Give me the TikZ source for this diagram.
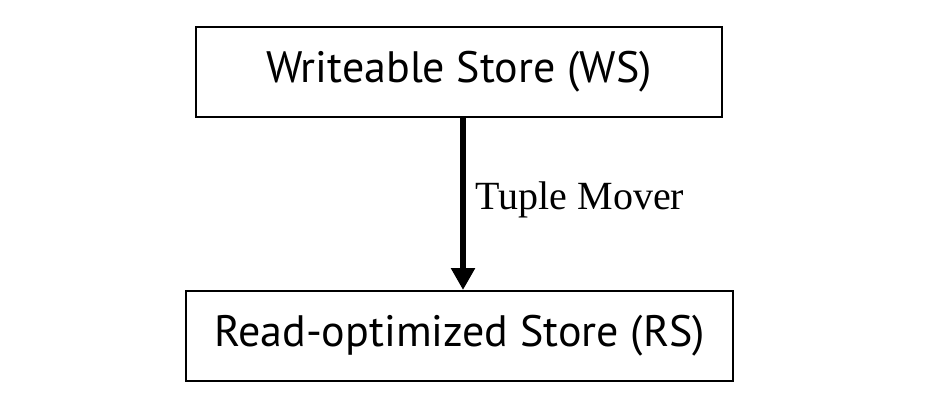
\documentclass[tikz,border=0pt]{standalone}
\usepackage{fontspec}
\setmainfont{Liberation Serif}
\newfontfamily\boxfont{PT Sans}
\usetikzlibrary{arrows.meta}

\tikzset{
	store/.style={draw, line width=1pt, inner sep=0pt, minimum height=45pt, font=\boxfont\fontsize{22}{26}\selectfont},
	mover/.style={line width=3pt, -{Triangle[width=11.5pt,length=11pt]}},
}

\begin{document}
\begin{tikzpicture}[x=0.5pt, y=-0.5pt]
	\useasboundingbox (0,0) rectangle (940,406);
	\node[store, minimum width=263pt] (ws) at (459,72) {Writeable Store (WS)};
	\node[store, minimum width=273.5pt] (rs) at (459.5,336) {Read-optimized Store (RS)};
	\draw[mover] ([xshift=2pt]ws.south) -- ([xshift=2pt]ws.south |- rs.north)
		node[midway, right=1.5pt, yshift=2pt, font=\fontsize{20}{24}\selectfont] (lbl) {Tuple Mover};
\end{tikzpicture}
\end{document}
